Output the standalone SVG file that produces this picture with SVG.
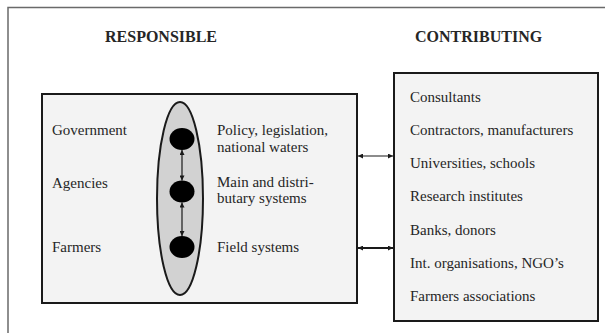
<svg xmlns="http://www.w3.org/2000/svg" width="605" height="333" viewBox="0 0 605 333">
<defs>
<style>
.t{font-family:"Liberation Serif","Times New Roman",serif;font-size:15px;fill:#262626}
.h{font-family:"Liberation Serif","Times New Roman",serif;font-size:16px;font-weight:bold;fill:#262626}
.box{fill:#f3f3f3;stroke:#1a1a1a;stroke-width:2}
.con{stroke:#1a1a1a;fill:none}
</style>
<marker id="ah" viewBox="0 0 10 10" refX="10" refY="5" markerWidth="6" markerHeight="5" orient="auto-start-reverse" markerUnits="userSpaceOnUse">
<path d="M0,0 L10,5 L0,10 z" fill="#1a1a1a"/>
</marker>
</defs>
<rect width="605" height="333" fill="#ffffff"/>
<path d="M8,333 L8,7.5 L605,7.5" fill="none" stroke="#6a6a6a" stroke-width="1.5"/>
<text class="h" x="105" y="42">RESPONSIBLE</text>
<text class="h" x="415" y="42">CONTRIBUTING</text>
<g id="responsible">
<rect class="box" x="42" y="94" width="315" height="209"/>
<ellipse cx="180" cy="198.5" rx="23" ry="96.5" fill="#d2d2d2" stroke="#1a1a1a" stroke-width="2"/>
<text class="t" x="52" y="135">Government</text>
<text class="t" x="52" y="188">Agencies</text>
<text class="t" x="52" y="252">Farmers</text>
<text class="t" x="217" y="135">Policy, legislation,</text>
<text class="t" x="217" y="152">national waters</text>
<text class="t" x="217" y="187">Main and distri-</text>
<text class="t" x="217" y="203">butary systems</text>
<text class="t" x="217" y="252">Field systems</text>
</g>
<g id="level-government"><ellipse cx="182" cy="139" rx="12.5" ry="11" fill="#000"/></g>
<g id="level-agencies"><ellipse cx="182" cy="191.5" rx="12.5" ry="11" fill="#000"/></g>
<g id="level-farmers"><ellipse cx="182" cy="247" rx="12.5" ry="11" fill="#000"/></g>
<g id="contributing">
<rect class="box" x="394" y="73" width="204" height="248"/>
<text class="t" x="410" y="102">Consultants</text>
<text class="t" x="410" y="135">Contractors, manufacturers</text>
<text class="t" x="410" y="168">Universities, schools</text>
<text class="t" x="410" y="201">Research institutes</text>
<text class="t" x="410" y="235">Banks, donors</text>
<text class="t" x="410" y="268">Int. organisations, NGO’s</text>
<text class="t" x="410" y="301">Farmers associations</text>
</g>
<g id="connectors">
<line class="con" x1="182" y1="150" x2="182" y2="180.5" stroke-width="1.2" marker-start="url(#ah)" marker-end="url(#ah)"/>
<line class="con" x1="182" y1="202.5" x2="182" y2="236" stroke-width="1.2" marker-start="url(#ah)" marker-end="url(#ah)"/>
<line class="con" x1="358" y1="156" x2="393" y2="156" stroke-width="1.2" marker-start="url(#ah)" marker-end="url(#ah)"/>
<line class="con" x1="358" y1="248" x2="393" y2="248" stroke-width="1.8" marker-start="url(#ah)" marker-end="url(#ah)"/>
</g>
</svg>
